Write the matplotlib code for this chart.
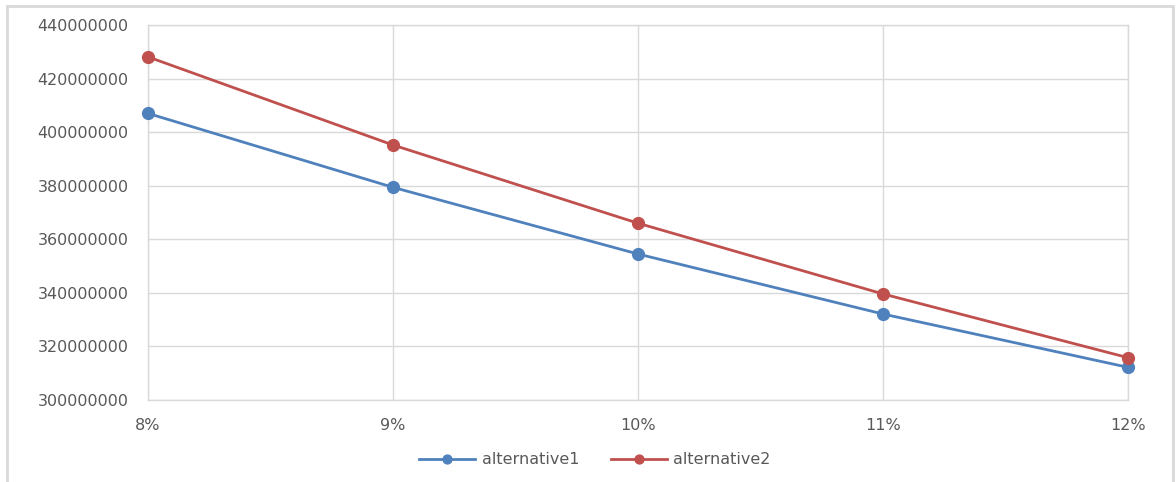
import matplotlib
matplotlib.use("Agg")
import matplotlib.pyplot as plt
from matplotlib.patches import Rectangle
from matplotlib.ticker import FixedLocator, FuncFormatter

# Data
rates = ["8%", "9%", "10%", "11%", "12%"]
alternative1 = [407.0e6, 379.4e6, 354.5e6, 332.1e6, 312.2e6]
alternative2 = [428.1e6, 395.2e6, 366.0e6, 339.6e6, 315.8e6]
y_ticks = [300e6, 320e6, 340e6, 360e6, 380e6, 400e6, 420e6, 440e6]

BLUE = "#4F81BD"
RED = "#C0504D"
GRID = "#D9D9D9"
TEXT = "#595959"

fig = plt.figure(figsize=(11.76, 4.82), dpi=100)
W, H = 1176, 482
# axes box in pixel units
left, right, top, bottom = 148, 1128, 25, 400
ax = fig.add_axes([left / W, 1 - bottom / H, (right - left) / W, (bottom - top) / H])

x = list(range(len(rates)))
ax.plot(x, alternative1, color=BLUE, lw=2.0, marker="o", ms=8.5,
        label="alternative1", zorder=3, clip_on=False)
ax.plot(x, alternative2, color=RED, lw=2.0, marker="o", ms=8.5,
        label="alternative2", zorder=3, clip_on=False)

ax.set_xlim(0, len(rates) - 1)
ax.set_ylim(300e6, 440e6)
ax.xaxis.set_major_locator(FixedLocator(x))
ax.set_xticklabels(rates)
ax.yaxis.set_major_locator(FixedLocator(y_ticks))
ax.yaxis.set_major_formatter(FuncFormatter(lambda v, p: f"{int(round(v))}"))

ax.grid(True, color=GRID, lw=1.0, zorder=0)
for s in ax.spines.values():
    s.set_color(GRID)
    s.set_linewidth(1.0)
ax.tick_params(axis="both", length=0, labelsize=11.5, colors=TEXT)
ax.tick_params(axis="y", pad=14)
ax.tick_params(axis="x", pad=13)
for lbl in ax.get_xticklabels() + ax.get_yticklabels():
    lbl.set_color(TEXT)

leg = ax.legend(loc="center", bbox_to_anchor=(595 / W, 1 - 460 / H),
                bbox_transform=fig.transFigure, ncol=2, frameon=False,
                fontsize=11.5, handlelength=3.5, columnspacing=2.0,
                handletextpad=0.4, markerscale=0.75)
for t in leg.get_texts():
    t.set_color(TEXT)

# outer chart frame
fig.patches.append(Rectangle((7 / W, -0.05), (1173 - 7) / W, 1.05 - 6 / H,
                             transform=fig.transFigure, fill=False,
                             edgecolor=GRID, lw=2.0))

fig.savefig("out.png", dpi=100)
